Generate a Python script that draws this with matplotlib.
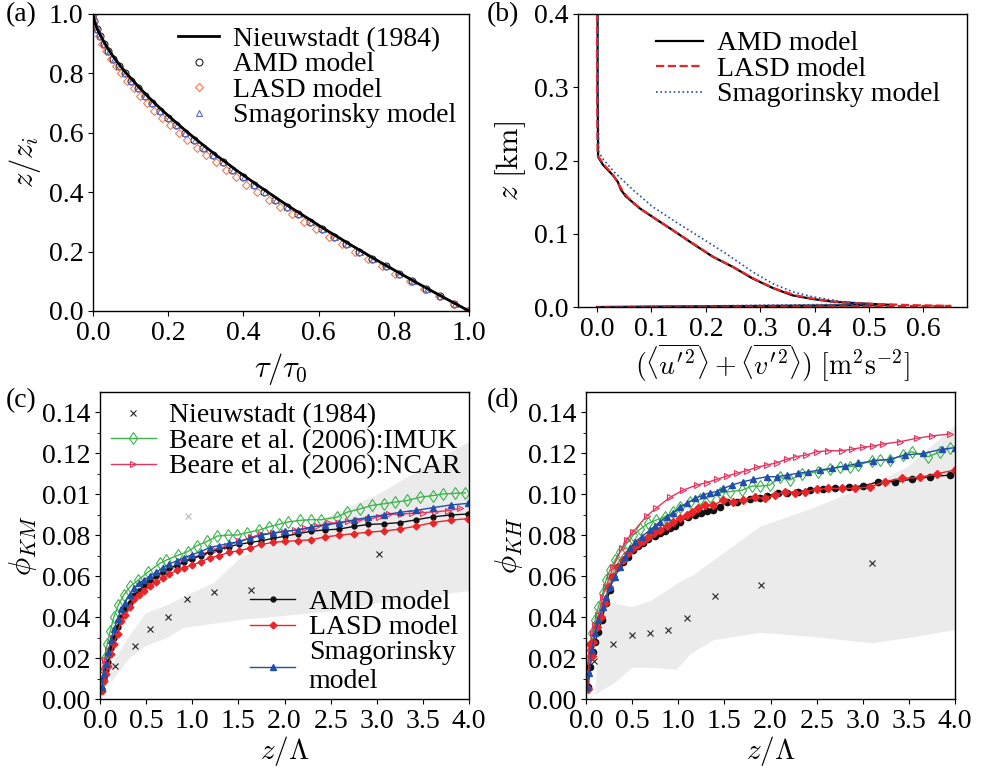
import numpy as np
import matplotlib.pyplot as plt

plt.rcParams['font.family'] = ['Liberation Serif', 'DejaVu Serif']
plt.rcParams['mathtext.fontset'] = 'cm'
plt.rcParams['font.size'] = 20
plt.rcParams['axes.linewidth'] = 1.0

# ---------------- (a) stress profiles ----------------
z_a = [0.0, 0.025, 0.05, 0.075, 0.1, 0.125, 0.15, 0.175, 0.2, 0.225, 0.25, 0.275, 0.3, 0.325,
       0.35, 0.375, 0.4, 0.425, 0.45, 0.475, 0.5, 0.525, 0.55, 0.575, 0.6, 0.625, 0.65, 0.675,
       0.7, 0.725, 0.75, 0.775, 0.8, 0.825, 0.85, 0.875, 0.9, 0.925, 0.95, 0.975, 1.0]
tau_nieuw = [1.000, 0.963, 0.926, 0.890, 0.854, 0.819, 0.784, 0.749, 0.716, 0.682, 0.650, 0.617,
             0.586, 0.555, 0.524, 0.494, 0.465, 0.436, 0.408, 0.380, 0.354, 0.327, 0.302, 0.277,
             0.253, 0.230, 0.207, 0.185, 0.164, 0.144, 0.125, 0.107, 0.089, 0.073, 0.058, 0.044,
             0.032, 0.021, 0.011, 0.004, 0.000]
tau_amd = [0.998, 0.961, 0.923, 0.886, 0.849, 0.813, 0.778, 0.742, 0.708, 0.674, 0.641, 0.609,
           0.577, 0.546, 0.515, 0.485, 0.456, 0.427, 0.399, 0.371, 0.345, 0.318, 0.293, 0.268,
           0.244, 0.222, 0.199, 0.177, 0.157, 0.137, 0.119, 0.101, 0.084, 0.069, 0.054, 0.041,
           0.029, 0.019, 0.010, 0.003, 0.000]
tau_lasd = [0.995, 0.960, 0.920, 0.881, 0.842, 0.804, 0.768, 0.731, 0.696, 0.661, 0.627, 0.594,
            0.561, 0.529, 0.497, 0.467, 0.437, 0.408, 0.380, 0.353, 0.327, 0.300, 0.276, 0.251,
            0.228, 0.206, 0.184, 0.163, 0.144, 0.125, 0.108, 0.091, 0.075, 0.061, 0.047, 0.035,
            0.025, 0.016, 0.008, 0.003, 0.000]
tau_smag = [0.999, 0.962, 0.924, 0.887, 0.850, 0.814, 0.779, 0.744, 0.710, 0.676, 0.643, 0.611,
            0.579, 0.548, 0.517, 0.487, 0.458, 0.429, 0.401, 0.373, 0.347, 0.320, 0.295, 0.270,
            0.246, 0.223, 0.201, 0.179, 0.158, 0.139, 0.120, 0.102, 0.085, 0.070, 0.055, 0.042,
            0.030, 0.019, 0.010, 0.003, 0.000]

# ---------------- (b) horizontal velocity variance ----------------
var_amd = [0.001, 0.001, 0.002, 0.011, 0.029, 0.038, 0.044, 0.053, 0.078, 0.102, 0.139, 0.175,
           0.212, 0.249, 0.286, 0.323, 0.359, 0.396, 0.433, 0.482, 0.544, 0.0]
z_amd_b = [0.40, 0.30, 0.205, 0.194, 0.180, 0.171, 0.160, 0.151, 0.135, 0.123, 0.105, 0.087,
           0.069, 0.055, 0.039, 0.026, 0.016, 0.011, 0.0073, 0.005, 0.0027, 0.0]
var_lasd = [0.0, 0.0, 0.001, 0.012, 0.030, 0.036, 0.046, 0.056, 0.080, 0.104, 0.141, 0.178,
            0.215, 0.252, 0.290, 0.327, 0.365, 0.400, 0.440, 0.500, 0.580, 0.650, 0.0]
z_lasd_b = [0.40, 0.30, 0.207, 0.195, 0.180, 0.172, 0.160, 0.150, 0.134, 0.122, 0.104, 0.086,
            0.068, 0.054, 0.038, 0.025, 0.016, 0.011, 0.007, 0.0045, 0.0025, 0.0015, 0.0]
var_smag = [0.002, 0.002, 0.003, 0.010, 0.032, 0.066, 0.102, 0.145, 0.188, 0.237, 0.286, 0.323,
            0.359, 0.396, 0.451, 0.500, 0.0]
z_smag_b = [0.40, 0.30, 0.212, 0.203, 0.184, 0.160, 0.137, 0.116, 0.096, 0.073, 0.048, 0.032,
            0.021, 0.014, 0.0073, 0.004, 0.0]

# ---------------- (c) phi_KM ----------------
x_nieuw_c = [0.163, 0.376, 0.545, 0.740, 0.947, 1.240, 1.637, 3.028]
phi_nieuw_c = [0.0161, 0.0260, 0.0343, 0.0402, 0.0490, 0.0521, 0.0532, 0.0707]
x_outlier_c = [0.950]
phi_outlier_c = [0.0895]
x_band_c = [0.11, 0.33, 0.49, 0.72, 0.90, 1.23, 1.54, 1.79, 2.5, 3.0, 4.0]
band_hi_c = [0.016, 0.032, 0.042, 0.046, 0.050, 0.057, 0.070, 0.075, 0.090, 0.100, 0.126]
band_lo_c = [0.008, 0.021, 0.026, 0.030, 0.035, 0.037, 0.039, 0.040, 0.043, 0.047, 0.053]

x_imuk_c = [0.02, 0.05, 0.08, 0.11, 0.15, 0.20, 0.26, 0.33, 0.41, 0.52, 0.65, 0.72, 0.85, 0.95,
            1.05, 1.16, 1.27, 1.39, 1.49, 1.59, 1.72, 1.83, 1.94, 2.04, 2.17, 2.29, 2.40, 2.57,
            2.68, 2.82, 2.95, 3.08, 3.20, 3.33, 3.47, 3.61, 3.72, 3.85, 3.96]
phi_imuk_c = [0.008, 0.020, 0.027, 0.033, 0.040, 0.046, 0.051, 0.055, 0.058, 0.062, 0.0663,
              0.0679, 0.0703, 0.072, 0.0749, 0.077, 0.0796, 0.0801, 0.0801, 0.0812, 0.0825,
              0.0841, 0.0854, 0.0865, 0.0873, 0.0876, 0.0876, 0.0889, 0.0913, 0.0929, 0.0946,
              0.0954, 0.0962, 0.097, 0.0986, 0.0994, 0.1002, 0.1005, 0.1007]
x_ncar_c = [0.02, 0.05, 0.09, 0.14, 0.2, 0.27, 0.35, 0.44, 0.54, 0.65, 0.76, 0.88, 1.0, 1.12,
            1.25, 1.38, 1.51, 1.64, 1.74, 1.87, 1.99, 2.11, 2.22, 2.35, 2.48, 2.59, 2.69, 2.80,
            2.91, 3.02, 3.13, 3.26, 3.38, 3.50, 3.63, 3.77, 3.90]
phi_ncar_c = [0.014, 0.019, 0.024, 0.030, 0.037, 0.043, 0.048, 0.053, 0.057, 0.061, 0.064,
              0.067, 0.069, 0.071, 0.073, 0.075, 0.077, 0.079, 0.0806, 0.081, 0.0817, 0.0825,
              0.0834, 0.0845, 0.0858, 0.0862, 0.087, 0.0874, 0.0878, 0.089, 0.0902, 0.0904,
              0.0907, 0.091, 0.0915, 0.092, 0.0931]

x_les_c = [0.02, 0.04, 0.06, 0.09, 0.12, 0.15, 0.19, 0.23, 0.27, 0.32, 0.37, 0.42, 0.48, 0.54,
           0.61, 0.68, 0.75, 0.83, 0.91, 1.0, 1.09, 1.19, 1.29, 1.40, 1.51, 1.63, 1.75, 1.88,
           2.01, 2.15, 2.29, 2.44, 2.59, 2.75, 2.91, 3.08, 3.25, 3.43, 3.61, 3.80, 3.99]
phi_amd_c = [0.005, 0.010, 0.014, 0.018, 0.025, 0.030, 0.035, 0.040, 0.044, 0.047, 0.051,
             0.053, 0.0555, 0.058, 0.060, 0.062, 0.064, 0.065, 0.067, 0.0685, 0.070, 0.0718,
             0.073, 0.0745, 0.0756, 0.0765, 0.0773, 0.0785, 0.0796, 0.0808, 0.082, 0.0826,
             0.083, 0.0843, 0.0853, 0.0856, 0.0862, 0.0876, 0.089, 0.0899, 0.0904]
phi_lasd_c = [0.004, 0.009, 0.012, 0.016, 0.022, 0.027, 0.032, 0.038, 0.041, 0.045, 0.0488,
              0.051, 0.053, 0.055, 0.057, 0.059, 0.061, 0.0628, 0.064, 0.0655, 0.067, 0.069,
              0.070, 0.0717, 0.0725, 0.0738, 0.0755, 0.0766, 0.0770, 0.0774, 0.0778, 0.0792,
              0.0800, 0.0808, 0.0815, 0.0821, 0.0830, 0.0845, 0.0862, 0.0874, 0.0881]
phi_smag_c = [0.006, 0.012, 0.017, 0.023, 0.029, 0.034, 0.039, 0.044, 0.047, 0.051, 0.054,
              0.0565, 0.058, 0.060, 0.062, 0.064, 0.066, 0.0675, 0.069, 0.0705, 0.072, 0.074,
              0.075, 0.076, 0.077, 0.0785, 0.080, 0.0812, 0.082, 0.0826, 0.084, 0.085, 0.086,
              0.0875, 0.0888, 0.090, 0.0912, 0.0922, 0.0935, 0.0948, 0.0956]

# ---------------- (d) phi_KH ----------------
x_nieuw_d = [0.087, 0.289, 0.495, 0.694, 0.892, 1.098, 1.398, 1.893, 3.10]
phi_nieuw_d = [0.0187, 0.0269, 0.0311, 0.0321, 0.0337, 0.0397, 0.0503, 0.0558, 0.0666]
x_band_d = [0.098, 0.152, 0.296, 0.495, 0.712, 0.98, 1.13, 1.38, 1.886, 2.46, 3.1, 3.48, 4.0]
band_hi_d = [0.004, 0.0451, 0.047, 0.0451, 0.0484, 0.0565, 0.060, 0.0679, 0.0845, 0.0935,
             0.1054, 0.1135, 0.1339]
band_lo_d = [0.002, 0.004, 0.0077, 0.0155, 0.0155, 0.0145, 0.0223, 0.0290, 0.0326, 0.0305,
             0.0275, 0.030, 0.034]

x_amd_d = [0.025, 0.043, 0.072, 0.098, 0.134, 0.17, 0.217, 0.26, 0.296, 0.351, 0.405, 0.459,
           0.513, 0.567, 0.622, 0.676, 0.748, 0.802, 0.856, 0.91, 0.965, 1.019, 1.109, 1.182,
           1.243, 1.308, 1.38, 1.452, 1.525, 1.633, 1.778, 1.886, 1.958, 2.085, 2.175, 2.302,
           2.428, 2.572, 2.70, 2.855, 3.006, 3.17, 3.35, 3.53, 3.73, 3.946]
phi_amd_d = [0.006, 0.0158, 0.0231, 0.028, 0.0329, 0.0386, 0.0467, 0.0532, 0.0597, 0.0646,
             0.0671, 0.0695, 0.0727, 0.0747, 0.076, 0.078, 0.0796, 0.0813, 0.0822, 0.0834,
             0.0845, 0.0866, 0.0891, 0.0899, 0.091, 0.092, 0.0923, 0.0939, 0.0964, 0.0964,
             0.0975, 0.098, 0.0992, 0.1008, 0.1008, 0.1013, 0.1021, 0.1024, 0.1029, 0.1037,
             0.1041, 0.1062, 0.1062, 0.1073, 0.1086, 0.1094]
x_lasd_d = [0.022, 0.04, 0.06, 0.08, 0.116, 0.159, 0.206, 0.253, 0.296, 0.351, 0.405, 0.459,
            0.513, 0.567, 0.622, 0.676, 0.737, 0.802, 0.874, 0.947, 1.019, 1.091, 1.145, 1.218,
            1.29, 1.38, 1.489, 1.597, 1.705, 1.832, 1.94, 2.049, 2.157, 2.265, 2.374, 2.5,
            2.627, 2.77, 2.92, 3.08, 3.24, 3.42, 3.62, 3.80, 4.0]
phi_lasd_d = [0.005, 0.027, 0.021, 0.028, 0.0353, 0.0402, 0.0467, 0.0549, 0.0597, 0.0646,
              0.0679, 0.0712, 0.0736, 0.0757, 0.0774, 0.079, 0.081, 0.0826, 0.0845, 0.0866,
              0.0883, 0.0899, 0.0915, 0.0931, 0.0947, 0.0947, 0.0972, 0.0964, 0.0972, 0.0988,
              0.098, 0.0997, 0.1013, 0.1005, 0.1013, 0.1024, 0.1029, 0.1029, 0.1029, 0.1037,
              0.1062, 0.1078, 0.1083, 0.11, 0.1119]
x_smag_d = [0.007, 0.036, 0.061, 0.098, 0.134, 0.181, 0.217, 0.26, 0.315, 0.369, 0.423, 0.477,
            0.531, 0.603, 0.694, 0.748, 0.802, 0.874, 0.947, 1.019, 1.091, 1.182, 1.272, 1.344,
            1.416, 1.489, 1.579, 1.705, 1.814, 1.958, 2.067, 2.175, 2.302, 2.41, 2.537, 2.663,
            2.808, 2.952, 3.115, 3.295, 3.458, 3.657, 3.855, 4.0]
phi_smag_d = [0.006, 0.0126, 0.0239, 0.0321, 0.0386, 0.0451, 0.05, 0.0549, 0.0597, 0.0646,
              0.0695, 0.0736, 0.0768, 0.0793, 0.0826, 0.0845, 0.0866, 0.0891, 0.0907, 0.0939,
              0.0956, 0.098, 0.0997, 0.1008, 0.1013, 0.1029, 0.1045, 0.1062, 0.1073, 0.1086,
              0.1086, 0.1094, 0.1103, 0.111, 0.1119, 0.1127, 0.1138, 0.1151, 0.1164, 0.1171,
              0.1192, 0.12, 0.122, 0.1228]
x_imuk_d = [0.014, 0.036, 0.061, 0.098, 0.134, 0.181, 0.217, 0.26, 0.315, 0.369, 0.441, 0.513,
            0.585, 0.676, 0.759, 0.856, 0.947, 1.019, 1.127, 1.236, 1.344, 1.452, 1.56, 1.69,
            1.80, 1.886, 1.99, 2.10, 2.21, 2.34, 2.52, 2.645, 2.75, 2.86, 2.95, 3.10, 3.19,
            3.29, 3.44, 3.53, 3.71, 3.84, 3.95]
phi_imuk_d = [0.0126, 0.0223, 0.0321, 0.0386, 0.0451, 0.0516, 0.0581, 0.063, 0.0679, 0.0719,
              0.076, 0.0801, 0.0829, 0.0858, 0.0874, 0.0891, 0.0915, 0.0939, 0.0964, 0.0975,
              0.0988, 0.1008, 0.1013, 0.102, 0.104, 0.104, 0.1045, 0.1083, 0.107, 0.1099,
              0.111, 0.1124, 0.1135, 0.1135, 0.1143, 0.1164, 0.1168, 0.1168, 0.1192, 0.1208,
              0.1184, 0.1208, 0.1225]
x_ncar_d = [0.005, 0.014, 0.036, 0.072, 0.098, 0.134, 0.181, 0.217, 0.26, 0.296, 0.387, 0.441,
            0.513, 0.658, 0.759, 0.91, 1.055, 1.2, 1.308, 1.416, 1.525, 1.633, 1.741, 1.85,
            1.958, 2.067, 2.175, 2.28, 2.39, 2.5, 2.627, 2.77, 2.88, 3.006, 3.115, 3.22, 3.404,
            3.584, 3.747, 3.946]
phi_ncar_d = [0.0077, 0.015, 0.0256, 0.0321, 0.0361, 0.041, 0.05, 0.0549, 0.0601, 0.0646,
              0.0736, 0.0777, 0.0817, 0.0894, 0.0932, 0.0985, 0.1021, 0.1045, 0.1057, 0.1073,
              0.1089, 0.1103, 0.1115, 0.1132, 0.1143, 0.1154, 0.1171, 0.1184, 0.1192, 0.1208,
              0.1213, 0.1213, 0.122, 0.123, 0.1236, 0.1246, 0.1257, 0.1274, 0.1285, 0.1295]

phi_ticks = [0.0, 0.02, 0.04, 0.06, 0.08, 0.10, 0.12, 0.14]
phi_ticklabels_c = ['0.00', '0.02', '0.04', '0.06', '0.08', '0.01', '0.12', '0.14']
phi_ticklabels_d = ['0.00', '0.02', '0.04', '0.06', '0.08', '0.10', '0.12', '0.14']

c_lasd_a = '#f07a5c'
c_smag_a = '#5c6cc8'
c_red = '#e8262a'
c_blue = '#1f4fa8'
c_green = '#3cb44b'
c_pink = '#e6335f'
c_band = '#ebebeb'

fs_leg = 20
fs_lab = 22

fig = plt.figure(figsize=(9.86, 7.73), dpi=100)

# (a)
ax = fig.add_axes([0.0943, 0.5977, 0.3814, 0.3842])
ax.plot(tau_nieuw, z_a, '-', color='black', lw=2.0, label='Nieuwstadt (1984)', zorder=3)
ax.plot(tau_amd, z_a, 'o', mfc='none', mec='#222222', ms=5, mew=0.8, label='AMD model')
ax.plot(tau_lasd, z_a, 'D', mfc='none', mec=c_lasd_a, ms=4.5, mew=0.8, label='LASD model')
ax.plot(tau_smag, z_a, '^', mfc='none', mec=c_smag_a, ms=5, mew=0.8, label='Smagorinsky model')
ax.set_xlim(0, 1)
ax.set_ylim(0, 1)
ax.set_xticks([0.0, 0.2, 0.4, 0.6, 0.8, 1.0])
ax.set_yticks([0.0, 0.2, 0.4, 0.6, 0.8, 1.0])
ax.set_xlabel(r'$\tau/\tau_0$', fontsize=fs_lab)
ax.set_ylabel(r'$z/z_i$', fontsize=fs_lab, labelpad=4)
ax.legend(loc='upper right', frameon=False, fontsize=fs_leg, handlelength=1.5,
          handletextpad=0.5, labelspacing=0.0, borderaxespad=0.05)

# (b)
ax = fig.add_axes([0.5862, 0.6028, 0.3945, 0.3791])
ax.plot(var_amd, z_amd_b, '-', color='black', lw=1.6, label='AMD model')
ax.plot(var_lasd, z_lasd_b, '--', color=c_red, lw=1.6, label='LASD model')
ax.plot(var_smag, z_smag_b, ':', color=c_blue, lw=1.2, label='Smagorinsky model')
ax.set_xlim(-0.035, 0.68)
ax.set_ylim(0, 0.4)
ax.set_xticks([0.0, 0.1, 0.2, 0.3, 0.4, 0.5, 0.6])
ax.set_yticks([0.0, 0.1, 0.2, 0.3, 0.4])
ax.set_xlabel(r"$(\langle\overline{u'^2}\rangle+\langle\overline{v'^2}\rangle)\ [\mathrm{m}^2\mathrm{s}^{-2}]$",
              fontsize=20, labelpad=0)
ax.set_ylabel(r'$z\ [\mathrm{km}]$', fontsize=fs_lab)
ax.legend(loc='upper right', bbox_to_anchor=(0.96, 0.98), frameon=False, fontsize=fs_leg,
          handlelength=1.7, handletextpad=0.5, labelspacing=0.0, borderaxespad=0.0)

# (c)
ax = fig.add_axes([0.1014, 0.0957, 0.3743, 0.3972])
ax.fill_between(x_band_c, band_lo_c, band_hi_c, color=c_band, lw=0, zorder=0)
h_nieuw, = ax.plot(x_nieuw_c, phi_nieuw_c, 'x', color='#222222', ms=5, mew=0.8)
ax.plot(x_outlier_c, phi_outlier_c, 'x', color='#bbbbbb', ms=5, mew=0.8)
h_imuk, = ax.plot(x_imuk_c, phi_imuk_c, '-', color=c_green, lw=1.0, marker='d', mfc='none',
                  ms=6, mew=0.8)
h_ncar, = ax.plot(x_ncar_c, phi_ncar_c, '-', color=c_pink, lw=1.0, marker='>', mfc='none',
                  ms=5, mew=0.8)
h_amd, = ax.plot(x_les_c, phi_amd_c, '-', color='#111111', lw=1.0, marker='o', ms=3.5)
h_lasd, = ax.plot(x_les_c, phi_lasd_c, '-', color=c_red, lw=1.0, marker='D', ms=3.5)
h_smag, = ax.plot(x_les_c, phi_smag_c, '-', color=c_blue, lw=1.0, marker='^', ms=4)
ax.set_xlim(0, 4)
ax.set_ylim(0, 0.15)
ax.set_xticks([0.0, 0.5, 1.0, 1.5, 2.0, 2.5, 3.0, 3.5, 4.0])
ax.set_yticks(phi_ticks)
ax.set_yticklabels(phi_ticklabels_c)
ax.set_yticks(np.arange(0.0, 0.15, 0.01), minor=True)
ax.set_xlabel(r'$z/\Lambda$', fontsize=21, labelpad=0)
ax.set_ylabel(r'$\phi_{KM}$', fontsize=fs_lab, labelpad=2)
leg1 = ax.legend([h_nieuw, h_imuk, h_ncar],
                 ['Nieuwstadt (1984)', 'Beare et al. (2006):IMUK', 'Beare et al. (2006):NCAR'],
                 loc='upper left', frameon=False, fontsize=fs_leg, handlelength=1.6,
                 handletextpad=0.5, labelspacing=0.0, borderaxespad=0.0)
ax.add_artist(leg1)
leg2 = [h_amd, h_lasd, h_smag]
ax.legend(leg2, ['AMD model', 'LASD model', 'Smagorinsky\nmodel'], loc='lower right',
          bbox_to_anchor=(1.0, -0.02), frameon=False, fontsize=fs_leg, handlelength=1.6,
          handletextpad=0.5, labelspacing=0.0, borderaxespad=0.0)

# (d)
ax = fig.add_axes([0.5943, 0.0957, 0.3743, 0.3972])
ax.fill_between(x_band_d, band_lo_d, band_hi_d, color=c_band, lw=0, zorder=0)
ax.plot(x_nieuw_d, phi_nieuw_d, 'x', color='#222222', ms=5, mew=0.8)
ax.plot(x_imuk_d, phi_imuk_d, '-', color=c_green, lw=1.0, marker='d', mfc='none', ms=6, mew=0.8)
ax.plot(x_ncar_d, phi_ncar_d, '-', color=c_pink, lw=1.0, marker='>', mfc='none', ms=5, mew=0.8)
ax.plot(x_amd_d, phi_amd_d, '-', color='#111111', lw=1.0, marker='o', ms=4.5)
ax.plot(x_lasd_d, phi_lasd_d, '-', color=c_red, lw=1.0, marker='D', ms=4.5)
ax.plot(x_smag_d, phi_smag_d, '-', color=c_blue, lw=1.0, marker='^', ms=4.5)
ax.set_xlim(0, 4)
ax.set_ylim(0, 0.15)
ax.set_xticks([0.0, 0.5, 1.0, 1.5, 2.0, 2.5, 3.0, 3.5, 4.0])
ax.set_yticks(phi_ticks)
ax.set_yticklabels(phi_ticklabels_d)
ax.set_yticks(np.arange(0.0, 0.15, 0.01), minor=True)
ax.set_xlabel(r'$z/\Lambda$', fontsize=21, labelpad=0)
ax.set_ylabel(r'$\phi_{KH}$', fontsize=fs_lab, labelpad=2)

fig.text(0.006, 0.981, '(a)', fontsize=20, va='center')
fig.text(0.494, 0.981, '(b)', fontsize=20, va='center')
fig.text(0.006, 0.482, '(c)', fontsize=20, va='center')
fig.text(0.494, 0.482, '(d)', fontsize=20, va='center')

plt.savefig('out.png', dpi=100)
